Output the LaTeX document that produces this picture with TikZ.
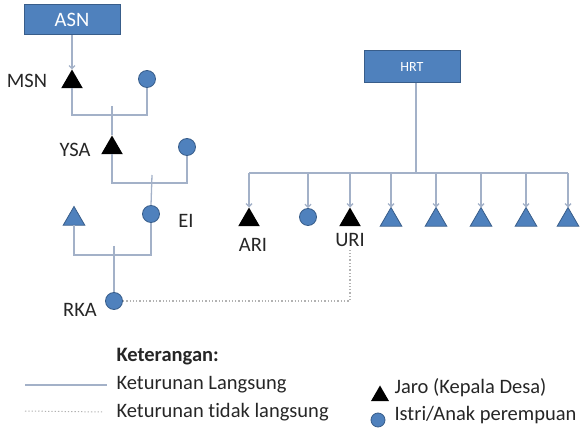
\documentclass[tikz,border=0pt]{standalone}
\usepackage{fontspec}
\setmainfont{Carlito}[Ligatures=NoCommon]
\usetikzlibrary{shapes.geometric,arrows.meta}
\definecolor{boxblue}{HTML}{4F81BD}
\definecolor{edgeblue}{HTML}{385D8A}
\definecolor{linegray}{HTML}{A3B1C8}

\begin{document}
\begin{tikzpicture}[x=1pt,y=-1pt]
\tikzset{line/.style = {draw=linegray, line width=1.3pt}}
\tikzset{edge/.style = {line, -{Straight Barb[length=3pt,width=6pt]}}}
\tikzset{indirect/.style = {draw=gray!60, line width=1.3pt, dotted}}
\tikzset{jaro/.style = {regular polygon, regular polygon sides=3, fill=black, minimum size=25pt, inner sep=0pt, outer sep=0pt}}
\tikzset{putra/.style = {jaro, fill=boxblue, draw=edgeblue, line width=.8pt}}
\tikzset{istri/.style = {circle, fill=boxblue, draw=edgeblue, line width=.8pt, minimum size=17pt, inner sep=0pt}}
\tikzset{kotak/.style = {fill=boxblue, draw=edgeblue, line width=1pt, minimum width=96pt, minimum height=30pt, text=white}}
\tikzstyle{every node}=[font=\fontsize{20.5}{24}\selectfont, text=black!85]
\useasboundingbox (0,0) rectangle (584,430);
\node [kotak, text=white] at (72,20)(asn) {ASN};
\node [kotak, text=white, minimum height=32pt, font=\fontsize{14}{16}\selectfont] at (412,67)(hrt) {HRT};
\node [jaro] at (72,82)(msn) {};
\node [istri] at (147,79)(w1) {};
\node [jaro] at (112,148)(ysa) {};
\node [istri] at (187,147)(w2) {};
\node [putra] at (74,219)(p1) {};
\node [istri] at (151,214)(ei) {};
\node [istri] at (114,301)(rka) {};
\node [jaro] at (249,220)(ari) {};
\node [istri] at (308,217)(anak) {};
\node [jaro] at (350,220)(uri) {};
\node [putra] at (391,220)(h4) {};
\node [putra] at (436,220)(h5) {};
\node [putra] at (481,220)(h6) {};
\node [putra] at (526,220)(h7) {};
\node [putra] at (568,220)(h8) {};
\node at (27,81)(msnl) {MSN};
\node at (75,150)(ysal) {YSA};
\node at (186,221)(eil) {EI};
\node at (80,310)(rkal) {RKA};
\node at (253,245)(aril) {ARI};
\node at (350,240)(uril) {URI};
\coordinate (b1) at (112,115);
\coordinate (b2) at (152,183);
\coordinate (b3) at (114,255);
\coordinate (bus) at (416,173);
\draw [edge] (asn.south) -- (msn.north);
\draw [line] (msn.south) |- (b1) -| (w1.south);
\draw [line] ([yshift=9pt]b1) -- (ysa.north);
\draw [line] (ysa.south) |- (b2) -| (w2.south);
\draw [line] ([yshift=8pt]b2) -- (ei.north);
\draw [line] (p1.south) |- (b3) -| (ei.south);
\draw [line] ([yshift=9pt]b3) -- (rka.north);
\draw [indirect] (rka.east) -| (uril.south);
\draw [line] (hrt.south -| bus) -- (bus);
\draw [line] (ari |- bus) -- (h8 |- bus);
\foreach \n in {ari,anak,uri,h4,h5,h6,h7,h8}
  \draw [edge] (\n |- bus) -- (\n.north);
\node [anchor=west, font=\fontsize{20.5}{24}\selectfont\bfseries] at (113,357)(ket) {Keterangan:};
\node [anchor=west] at (113,385)(lg1) {Keturunan Langsung};
\node [anchor=west] at (113,412)(lg2) {Keturunan tidak langsung};
\coordinate (s1) at (25,385);
\coordinate (s2) at (25,411);
\draw [line] (s1) -- ([xshift=-6pt]lg1.west);
\draw [indirect, line width=1pt] (s2) -- ([xshift=-10pt]lg2.west);
\node [jaro, minimum size=21pt] at (380,396)(lj) {};
\node [istri, minimum size=14pt] at (378,420)(li) {};
\node [anchor=west] at (391,388)(lg3) {Jaro (Kepala Desa)};
\node [anchor=west] at (391,415)(lg4) {Istri/Anak perempuan};
\end{tikzpicture}
\end{document}
